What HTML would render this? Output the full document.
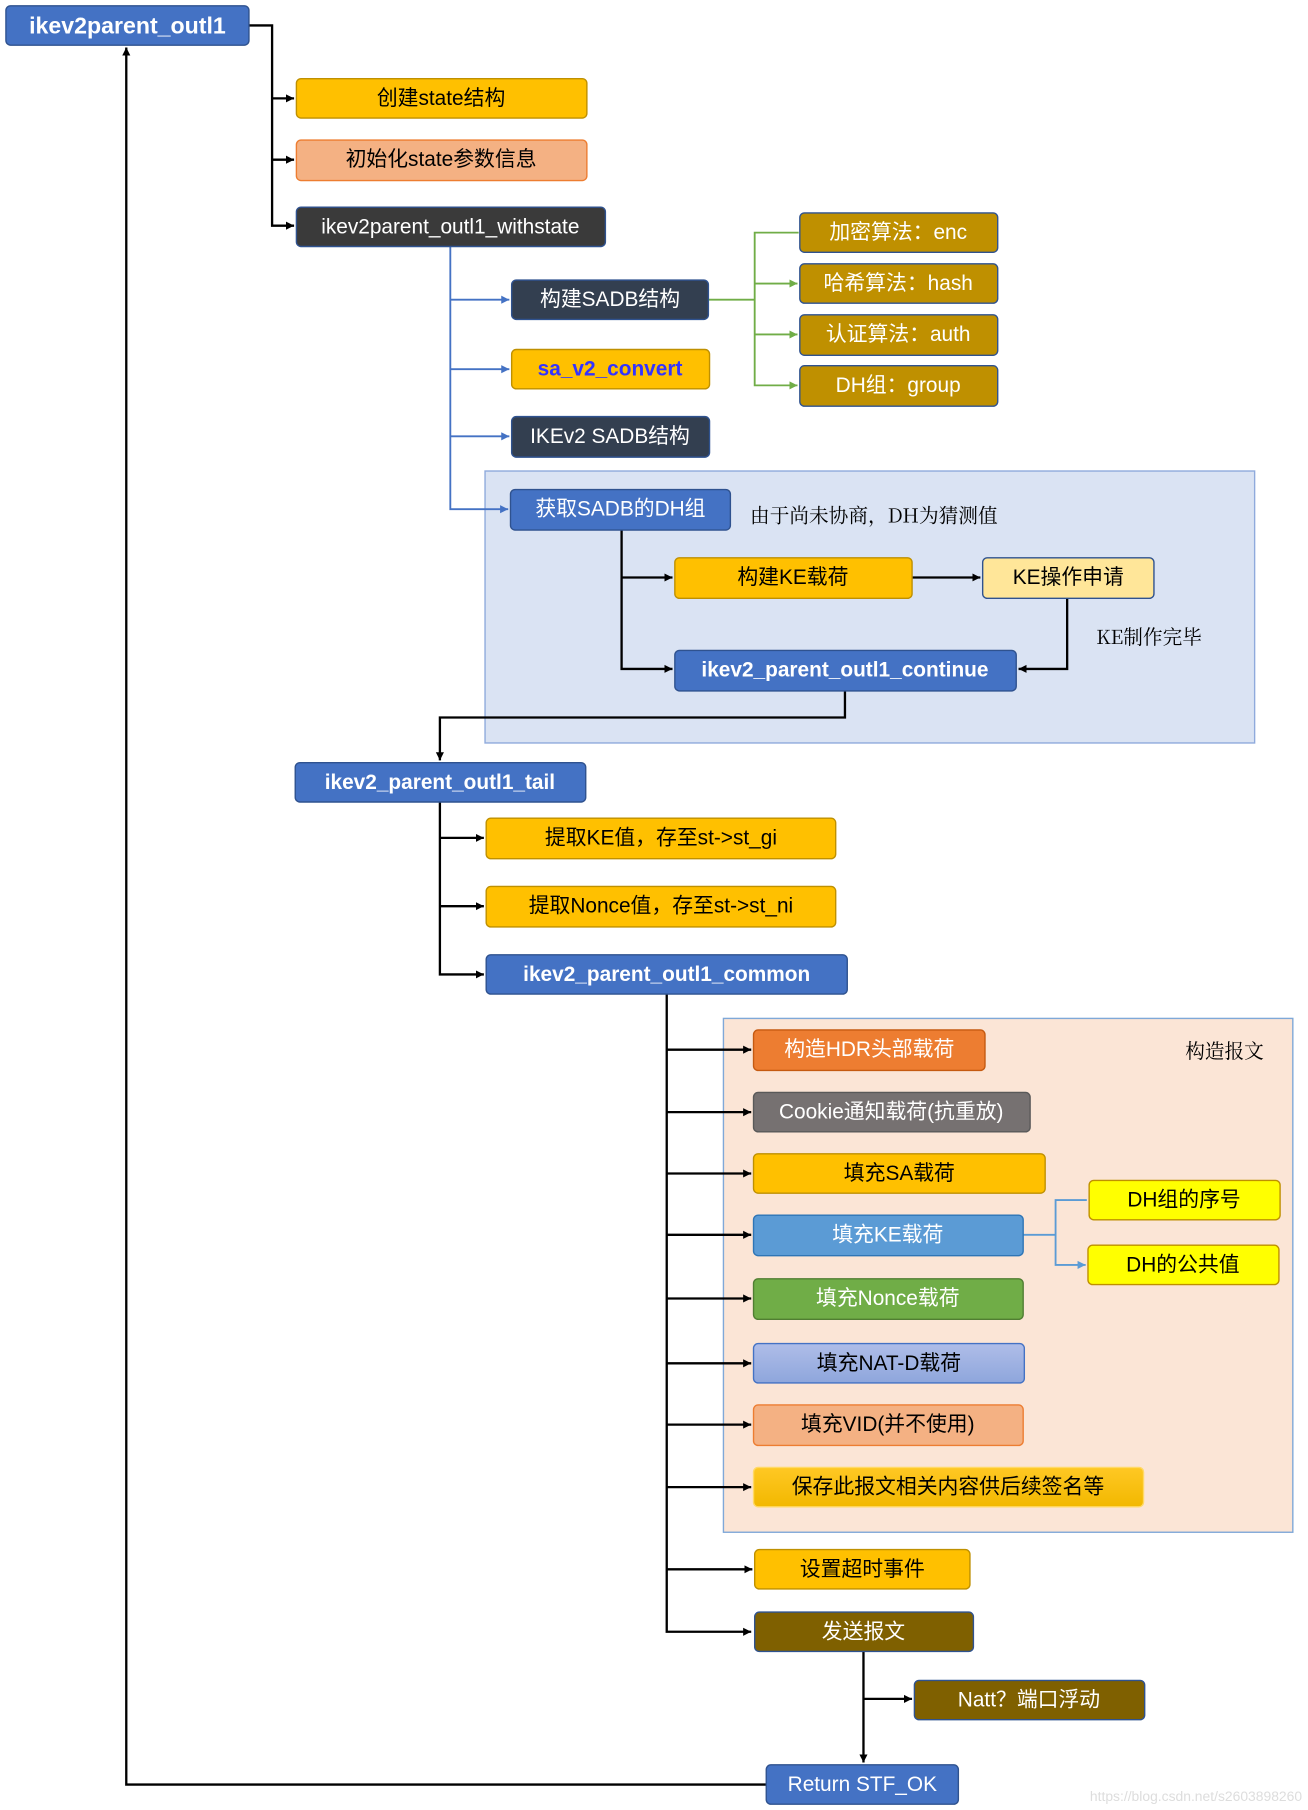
<!DOCTYPE html>
<html><head><meta charset="utf-8"><style>
html,body{margin:0;padding:0;background:#fff}
svg{display:block}
text{font-family:"Liberation Sans","Noto Sans CJK SC",sans-serif}
.s{font-family:"Noto Serif CJK SC","Liberation Serif",serif}
</style></head><body>
<svg width="1308" height="1810" viewBox="0 0 1130 1564" xmlns="http://www.w3.org/2000/svg">
<defs>
<marker id="ak" markerWidth="8" markerHeight="8" refX="7" refY="4" orient="auto" markerUnits="userSpaceOnUse"><path d="M0,0.5 L7,4 L0,7.5z" fill="#000"/></marker>
<marker id="ab" markerWidth="8" markerHeight="8" refX="7" refY="4" orient="auto" markerUnits="userSpaceOnUse"><path d="M0,0.5 L7,4 L0,7.5z" fill="#4472C4"/></marker>
<marker id="ag" markerWidth="8" markerHeight="8" refX="7" refY="4" orient="auto" markerUnits="userSpaceOnUse"><path d="M0,0.5 L7,4 L0,7.5z" fill="#70AD47"/></marker>
<marker id="al" markerWidth="8" markerHeight="8" refX="7" refY="4" orient="auto" markerUnits="userSpaceOnUse"><path d="M0,0.5 L7,4 L0,7.5z" fill="#5B9BD5"/></marker>
<linearGradient id="nat" x1="0" y1="0" x2="0" y2="1"><stop offset="0" stop-color="#AFBDE8"/><stop offset="1" stop-color="#8EA6DC"/></linearGradient>
<linearGradient id="sav" x1="0" y1="0" x2="0" y2="1"><stop offset="0" stop-color="#FFC824"/><stop offset="1" stop-color="#F2B800"/></linearGradient>
</defs>

<!-- regions -->
<rect x="419" y="407" width="665" height="235" fill="#DAE3F3" stroke="#8FAADC" stroke-width="1.2"/>
<rect x="625" y="880" width="492" height="444" fill="#FBE5D6" stroke="#7FA8D8" stroke-width="1.2"/>

<!-- connectors black -->
<g fill="none" stroke="#000" stroke-width="2">
<path d="M215,22 H235 V195 H254" marker-end="url(#ak)"/>
<path d="M235,85 H254" marker-end="url(#ak)"/>
<path d="M235,138 H254" marker-end="url(#ak)"/>
<path d="M537,458 V578 H581" marker-end="url(#ak)"/>
<path d="M537,499 H581" marker-end="url(#ak)"/>
<path d="M788,499 H847" marker-end="url(#ak)"/>
<path d="M922,517 V578 H880" marker-end="url(#ak)"/>
<path d="M730,597 V620 H380 V657" marker-end="url(#ak)"/>
<path d="M380,693 V842 H418" marker-end="url(#ak)"/>
<path d="M380,724 H418" marker-end="url(#ak)"/>
<path d="M380,783 H418" marker-end="url(#ak)"/>
<path d="M576,859 V1410 H649" marker-end="url(#ak)"/>
<path d="M576,907 H649" marker-end="url(#ak)"/>
<path d="M576,961 H649" marker-end="url(#ak)"/>
<path d="M576,1014 H649" marker-end="url(#ak)"/>
<path d="M576,1067 H649" marker-end="url(#ak)"/>
<path d="M576,1122 H649" marker-end="url(#ak)"/>
<path d="M576,1178 H649" marker-end="url(#ak)"/>
<path d="M576,1231 H649" marker-end="url(#ak)"/>
<path d="M576,1285 H649" marker-end="url(#ak)"/>
<path d="M576,1356 H650" marker-end="url(#ak)"/>
<path d="M746,1427 V1523" marker-end="url(#ak)"/>
<path d="M746,1468 H788" marker-end="url(#ak)"/>
<path d="M662,1542 H109 V41" marker-end="url(#ak)"/>
</g>
<!-- blue connector -->
<g fill="none" stroke="#4472C4" stroke-width="1.6">
<path d="M389,213 V440 H439" marker-end="url(#ab)"/>
<path d="M389,259 H440" marker-end="url(#ab)"/>
<path d="M389,319 H440" marker-end="url(#ab)"/>
<path d="M389,377 H440" marker-end="url(#ab)"/>
</g>
<!-- green -->
<g fill="none" stroke="#70AD47" stroke-width="1.6">
<path d="M612,259 H652"/>
<path d="M690,201 H652 V333 H689" marker-end="url(#ag)"/>
<path d="M652,245 H689" marker-end="url(#ag)"/>
<path d="M652,289 H689" marker-end="url(#ag)"/>
</g>
<g fill="none" stroke="#5B9BD5" stroke-width="1.6">
<path d="M884,1067 H912"/>
<path d="M939,1037 H912 V1093 H938" marker-end="url(#al)"/>
</g>

<!-- boxes -->
<g stroke-width="1.2">
<rect x="5" y="5" width="210" height="34" rx="4" fill="#4472C4" stroke="#2F528F"/>
<rect x="256" y="68" width="251" height="34" rx="4" fill="#FFC000" stroke="#BF9000"/>
<rect x="256" y="121" width="251" height="35" rx="4" fill="#F4B183" stroke="#ED7D31"/>
<rect x="256" y="179" width="267" height="34" rx="4" fill="#3A3A3A" stroke="#2F528F"/>
<rect x="442" y="242" width="170" height="34" rx="4" fill="#333F50" stroke="#2F528F"/>
<rect x="442" y="302" width="171" height="34" rx="4" fill="#FFC000" stroke="#BF9000"/>
<rect x="442" y="360" width="171" height="35" rx="4" fill="#333F50" stroke="#2F528F"/>
<rect x="691" y="184" width="171" height="34" rx="4" fill="#BF9000" stroke="#2F528F"/>
<rect x="691" y="228" width="171" height="34" rx="4" fill="#BF9000" stroke="#2F528F"/>
<rect x="691" y="272" width="171" height="35" rx="4" fill="#BF9000" stroke="#2F528F"/>
<rect x="691" y="316" width="171" height="35" rx="4" fill="#BF9000" stroke="#2F528F"/>
<rect x="441" y="423" width="190" height="35" rx="4" fill="#4472C4" stroke="#2F528F"/>
<rect x="583" y="482" width="205" height="35" rx="4" fill="#FFC000" stroke="#BF9000"/>
<rect x="849" y="482" width="148" height="35" rx="4" fill="#FFE699" stroke="#2F528F"/>
<rect x="583" y="562" width="295" height="35" rx="4" fill="#4472C4" stroke="#2F528F"/>
<rect x="255" y="659" width="251" height="34" rx="4" fill="#4472C4" stroke="#2F528F"/>
<rect x="420" y="707" width="302" height="35" rx="4" fill="#FFC000" stroke="#BF9000"/>
<rect x="420" y="766" width="302" height="35" rx="4" fill="#FFC000" stroke="#BF9000"/>
<rect x="420" y="825" width="312" height="34" rx="4" fill="#4472C4" stroke="#2F528F"/>
<rect x="651" y="890" width="200" height="35" rx="4" fill="#ED7D31" stroke="#C55A11"/>
<rect x="651" y="944" width="239" height="34" rx="4" fill="#767171" stroke="#595959"/>
<rect x="651" y="997" width="252" height="34" rx="4" fill="#FFC000" stroke="#BF9000"/>
<rect x="651" y="1050" width="233" height="35" rx="4" fill="#5B9BD5" stroke="#2E75B6"/>
<rect x="651" y="1105" width="233" height="35" rx="4" fill="#70AD47" stroke="#507E32"/>
<rect x="651" y="1161" width="234" height="34" rx="4" fill="url(#nat)" stroke="#4472C4"/>
<rect x="651" y="1214" width="233" height="35" rx="4" fill="#F4B183" stroke="#ED7D31"/>
<rect x="651" y="1268" width="337" height="34" rx="4" fill="url(#sav)" stroke="#FFD966"/>
<rect x="941" y="1020" width="165" height="34" rx="4" fill="#FFFF00" stroke="#BF9000"/>
<rect x="940" y="1076" width="165" height="34" rx="4" fill="#FFFF00" stroke="#BF9000"/>
<rect x="652" y="1339" width="186" height="34" rx="4" fill="#FFC000" stroke="#BF9000"/>
<rect x="652" y="1393" width="189" height="34" rx="4" fill="#7F6000" stroke="#2F528F"/>
<rect x="790" y="1452" width="199" height="34" rx="4" fill="#7F6000" stroke="#2F528F"/>
<rect x="662" y="1525" width="166" height="34" rx="4" fill="#4472C4" stroke="#2F528F"/>
</g>

<!-- text -->
<g text-anchor="middle" dominant-baseline="central" font-size="18">
<text x="110" y="22" fill="#fff" font-weight="bold" font-size="20">ikev2parent_outl1</text>
<text x="381" y="85" fill="#000">创建state结构</text>
<text x="381" y="138" fill="#000">初始化state参数信息</text>
<text x="389" y="196" fill="#fff">ikev2parent_outl1_withstate</text>
<text x="527" y="259" fill="#fff">构建SADB结构</text>
<text x="527" y="319" fill="#3333FF" font-weight="bold">sa_v2_convert</text>
<text x="527" y="377" fill="#fff">IKEv2 SADB结构</text>
<text x="776" y="201" fill="#fff">加密算法：enc</text>
<text x="776" y="245" fill="#fff">哈希算法：hash</text>
<text x="776" y="289" fill="#fff">认证算法：auth</text>
<text x="776" y="333" fill="#fff">DH组：group</text>
<text x="536" y="440" fill="#fff">获取SADB的DH组</text>
<text x="685" y="499" fill="#000">构建KE载荷</text>
<text x="923" y="499" fill="#000">KE操作申请</text>
<text x="730" y="579" fill="#fff" font-weight="bold">ikev2_parent_outl1_continue</text>
<text x="380" y="676" fill="#fff" font-weight="bold">ikev2_parent_outl1_tail</text>
<text x="571" y="724" fill="#000">提取KE值，存至st-&gt;st_gi</text>
<text x="571" y="783" fill="#000">提取Nonce值，存至st-&gt;st_ni</text>
<text x="576" y="842" fill="#fff" font-weight="bold">ikev2_parent_outl1_common</text>
<text x="751" y="907" fill="#fff">构造HDR头部载荷</text>
<text x="770" y="961" fill="#fff">Cookie通知载荷(抗重放)</text>
<text x="777" y="1014" fill="#000">填充SA载荷</text>
<text x="767" y="1067" fill="#fff">填充KE载荷</text>
<text x="767" y="1122" fill="#fff">填充Nonce载荷</text>
<text x="768" y="1178" fill="#000">填充NAT-D载荷</text>
<text x="767" y="1231" fill="#000">填充VID(并不使用)</text>
<text x="819" y="1285" fill="#000">保存此报文相关内容供后续签名等</text>
<text x="1023" y="1037" fill="#000">DH组的序号</text>
<text x="1022" y="1093" fill="#000">DH的公共值</text>
<text x="745" y="1356" fill="#000">设置超时事件</text>
<text x="746" y="1410" fill="#fff">发送报文</text>
<text x="889" y="1469" fill="#fff">Natt？端口浮动</text>
<text x="745" y="1542" fill="#fff">Return STF_OK</text>
</g>
<g dominant-baseline="central" font-size="17" fill="#000">
<text class="s" x="648" y="444">由于尚未协商，DH为猜测值</text>
<text class="s" x="947" y="549">KE制作完毕</text>
<text class="s" x="1024" y="907">构造报文</text>
</g>
<text x="1125" y="1552" text-anchor="end" dominant-baseline="central" font-size="12" fill="#ddd">https://blog.csdn.net/s2603898260</text>
</svg>
</body></html>
